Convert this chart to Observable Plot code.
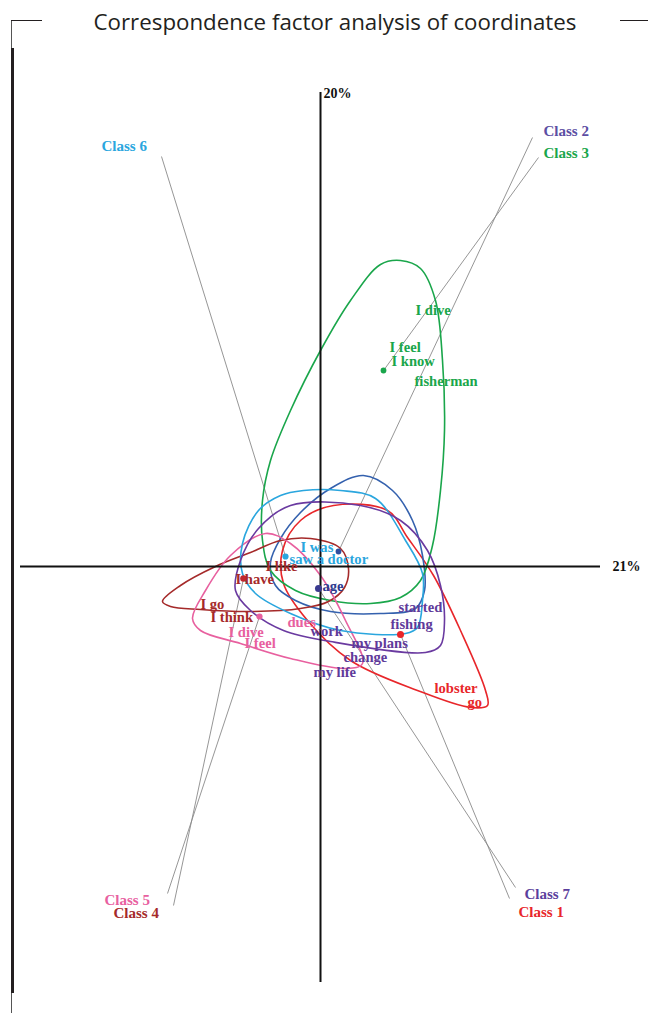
<!DOCTYPE html>
<html>
<head>
<meta charset="utf-8">
<script src="https://cdn.jsdelivr.net/npm/d3@7"></script>
<script src="https://cdn.jsdelivr.net/npm/@observablehq/plot@0.6"></script>
<style>
  html, body { margin: 0; padding: 0; background: #fff; }
  #page { position: relative; width: 648px; height: 1017px; overflow: hidden; }
  #title { position: relative; height: 40px; }
  #title span { position: absolute; left: 335px; top: 6px; transform: translateX(-50%); white-space: nowrap;
    font-family: "Open Sans", Lato, sans-serif; font-weight: 400; font-size: 22.3px; color: #231f20; }
  .frame { position: absolute; background: #231f20; }
  #chart svg { display: block; }
</style>
</head>
<body>
<div id="page">
  <div id="title"><span>Correspondence factor analysis of coordinates</span></div>
  <div id="chart"></div>
  <div class="frame" style="left:11px;top:20px;width:1px;height:993px;background:#555"></div>
  <div class="frame" style="left:11px;top:48px;width:3px;height:945px"></div>
  <div class="frame" style="left:11px;top:20px;width:31px;height:1px"></div>
  <div class="frame" style="left:620px;top:20px;width:28px;height:1px"></div>
</div>
<script>
// ---- data (factor-plane units) ----
const classNames  = ["Class 1", "Class 2", "Class 3", "Class 4", "Class 5", "Class 6", "Class 7"];
const classColors = ["#e8262a", "#3461ae", "#1aa64b", "#a52a2a", "#e8609f", "#2aa6de", "#6a3aa0"];
const labelColors = ["#e8262a", "#5c4ea3", "#1aa64b", "#a52a2a", "#e8609f", "#2aa6de", "#5b3e9c"];
const labelX = [1.98, 2.23, 2.23, -2.07, -2.16, -2.19, 2.04];
const labelY = [-3.46, 4.35, 4.13, -3.47, -3.34, 4.20, -3.28];
const leaderX = [1.89, 2.12, 2.18, -1.47, -1.53, -1.59, 1.95];
const leaderY = [-3.32, 4.29, 4.09, -3.39, -3.27, 4.10, -3.21];
const centroidX = [0.80, 0.18, 0.63, -0.77, -0.61, -0.35, -0.02];
const centroidY = [-0.68, 0.15, 1.96, -0.12, -0.50, 0.10, -0.22];
const centroidR = [4.5, 3, 3, 4, 3.5, 3.5, 4.5];
const centroidColors = ["#e8262a", "#2f4f9e", "#1aa64b", "#c0282d", "#e8609f", "#2aa6de", "#3a3a8f"];

const contour1 = [[0.13,0.61],[0.67,0.56],[0.87,0.29],[1.13,-0.09],[1.40,-0.64],[1.65,-1.24],[1.67,-1.39],[1.50,-1.41],[0.97,-1.24],[0.30,-0.94],[-0.13,-0.54],[-0.37,-0.17],[-0.38,0.16],[-0.20,0.46]];
const contour2 = [[0.43,0.91],[0.72,0.76],[0.92,0.46],[1.02,0.11],[1.04,-0.24],[0.95,-0.42],[0.60,-0.47],[0.10,-0.45],[-0.25,-0.34],[-0.45,-0.19],[-0.50,0.04],[-0.40,0.28],[-0.20,0.54],[0.10,0.78]];
const contour3 = [[0.80,3.06],[1.00,2.98],[1.15,2.66],[1.22,2.06],[1.24,1.36],[1.20,0.76],[1.12,0.21],[1.00,-0.14],[0.80,-0.31],[0.50,-0.37],[0.10,-0.34],[-0.25,-0.24],[-0.50,-0.04],[-0.58,0.26],[-0.58,0.66],[-0.50,1.06],[-0.30,1.56],[0.00,2.16],[0.30,2.66],[0.60,3.02]];
const contour4 = [[-1.58,-0.35],[-1.40,-0.19],[-1.05,0.00],[-0.70,0.14],[-0.40,0.26],[-0.10,0.28],[0.20,0.18],[0.28,-0.02],[0.24,-0.21],[0.08,-0.35],[-0.20,-0.42],[-0.70,-0.45],[-1.20,-0.43],[-1.50,-0.40]];
const contour5 = [[-1.28,-0.52],[-1.15,-0.24],[-0.90,0.11],[-0.55,0.33],[-0.30,0.23],[0.00,-0.09],[0.25,-0.54],[0.42,-0.97],[0.25,-1.02],[-0.30,-0.92],[-0.80,-0.77],[-1.20,-0.64]];
const contour6 = [[-0.17,0.76],[0.20,0.76],[0.55,0.68],[0.85,0.26],[1.02,-0.07],[1.02,-0.34],[0.97,-0.61],[0.85,-0.67],[0.20,-0.64],[-0.30,-0.47],[-0.65,-0.27],[-0.78,-0.07],[-0.78,0.23],[-0.62,0.56],[-0.40,0.71]];
const contour7 = [[-0.30,0.61],[0.40,0.61],[0.80,0.46],[1.07,0.16],[1.20,-0.19],[1.24,-0.54],[1.20,-0.79],[1.05,-0.86],[0.10,-0.75],[-0.37,-0.64],[-0.70,-0.44],[-0.85,-0.24],[-0.80,0.06],[-0.62,0.38]];
const contours = [contour1, contour2, contour3, contour4, contour5, contour6, contour7];

const wordText  = ["I dive", "I feel", "I know", "fisherman", "I was", "saw a doctor", "I like", "I have", "I go", "I think", "I dive", "I feel", "dues", "age", "work", "started", "fishing", "my plans", "change", "my life", "lobster", "go"];
const wordX = [0.95, 0.69, 0.71, 0.94, -0.20, -0.31, -0.55, -0.85, -1.20, -1.10, -0.92, -0.76, -0.33, 0.02, -0.10, 0.78, 0.70, 0.31, 0.23, -0.07, 1.14, 1.47];
const wordY = [2.56, 2.19, 2.05, 1.85, 0.19, 0.07, 0.00, -0.13, -0.38, -0.51, -0.66, -0.77, -0.56, -0.20, -0.65, -0.41, -0.58, -0.77, -0.91, -1.06, -1.22, -1.36];
const wordColors = ["#1aa64b", "#1aa64b", "#1aa64b", "#1aa64b", "#2aa6de", "#2aa6de", "#a52a2a", "#a52a2a", "#a52a2a", "#a52a2a", "#e8609f", "#e8609f", "#e8609f", "#2f3b8f", "#5f3a9a", "#5f3a9a", "#5f3a9a", "#5f3a9a", "#5f3a9a", "#5f3a9a", "#e8262a", "#e8262a"];

const axisPercent = ["20%", "21%"];
const axisLabelX = [0.03, 2.92];
const axisLabelY = [4.73, 0.0];
const vAxisY = [4.74, -4.16];
const hAxisX = [-3.0, 2.8];

// ---- tables built from the arrays ----
const classes = classNames.map((name, i) => ({
  name, color: classColors[i], labelColor: labelColors[i],
  lx: labelX[i], ly: labelY[i], ex: leaderX[i], ey: leaderY[i],
  cx: centroidX[i], cy: centroidY[i], r: centroidR[i], cc: centroidColors[i]
}));
const contourRows = contours.flatMap((pts, i) => pts.map(([x, y]) => ({x, y, cls: classNames[i], color: classColors[i]})));
const words = wordText.map((t, i) => ({t, x: wordX[i], y: wordY[i], color: wordColors[i]}));
const axisLabels = axisPercent.map((t, i) => ({t, x: axisLabelX[i], y: axisLabelY[i]}));

const chart = Plot.plot({
  width: 648,
  height: 977,
  margin: 0,
  x: {domain: [-3.2, 3.28], axis: null},
  y: {domain: [-4.51, 5.26], axis: null},
  color: {type: "identity"},
  style: {background: "white", fontFamily: "'Liberation Serif', serif"},
  marks: [
    Plot.link(classes, {x1: "ex", y1: "ey", x2: "cx", y2: "cy", stroke: "#8a8a8a", strokeWidth: 0.9}),
    Plot.line(contourRows, {x: "x", y: "y", z: "cls", stroke: "color", strokeWidth: 1.6, curve: "catmull-rom-closed"}),
    Plot.ruleX([0], {y1: vAxisY[0], y2: vAxisY[1], stroke: "#111", strokeWidth: 2}),
    Plot.ruleY([0], {x1: hAxisX[0], x2: hAxisX[1], stroke: "#111", strokeWidth: 2}),
    Plot.dot(classes, {x: "cx", y: "cy", r: "r", fill: "cc", stroke: "none"}),
    Plot.text(words, {x: "x", y: "y", text: "t", fill: "color", textAnchor: "start", fontSize: 14.6, fontWeight: "bold"}),
    Plot.text(classes, {x: "lx", y: "ly", text: "name", fill: "labelColor", textAnchor: "start", fontSize: 15, fontWeight: "bold"}),
    Plot.text(axisLabels, {x: "x", y: "y", text: "t", fill: "#111", textAnchor: "start", fontSize: 14, fontWeight: "bold"})
  ]
});
document.getElementById("chart").appendChild(chart);
</script>
</body>
</html>
